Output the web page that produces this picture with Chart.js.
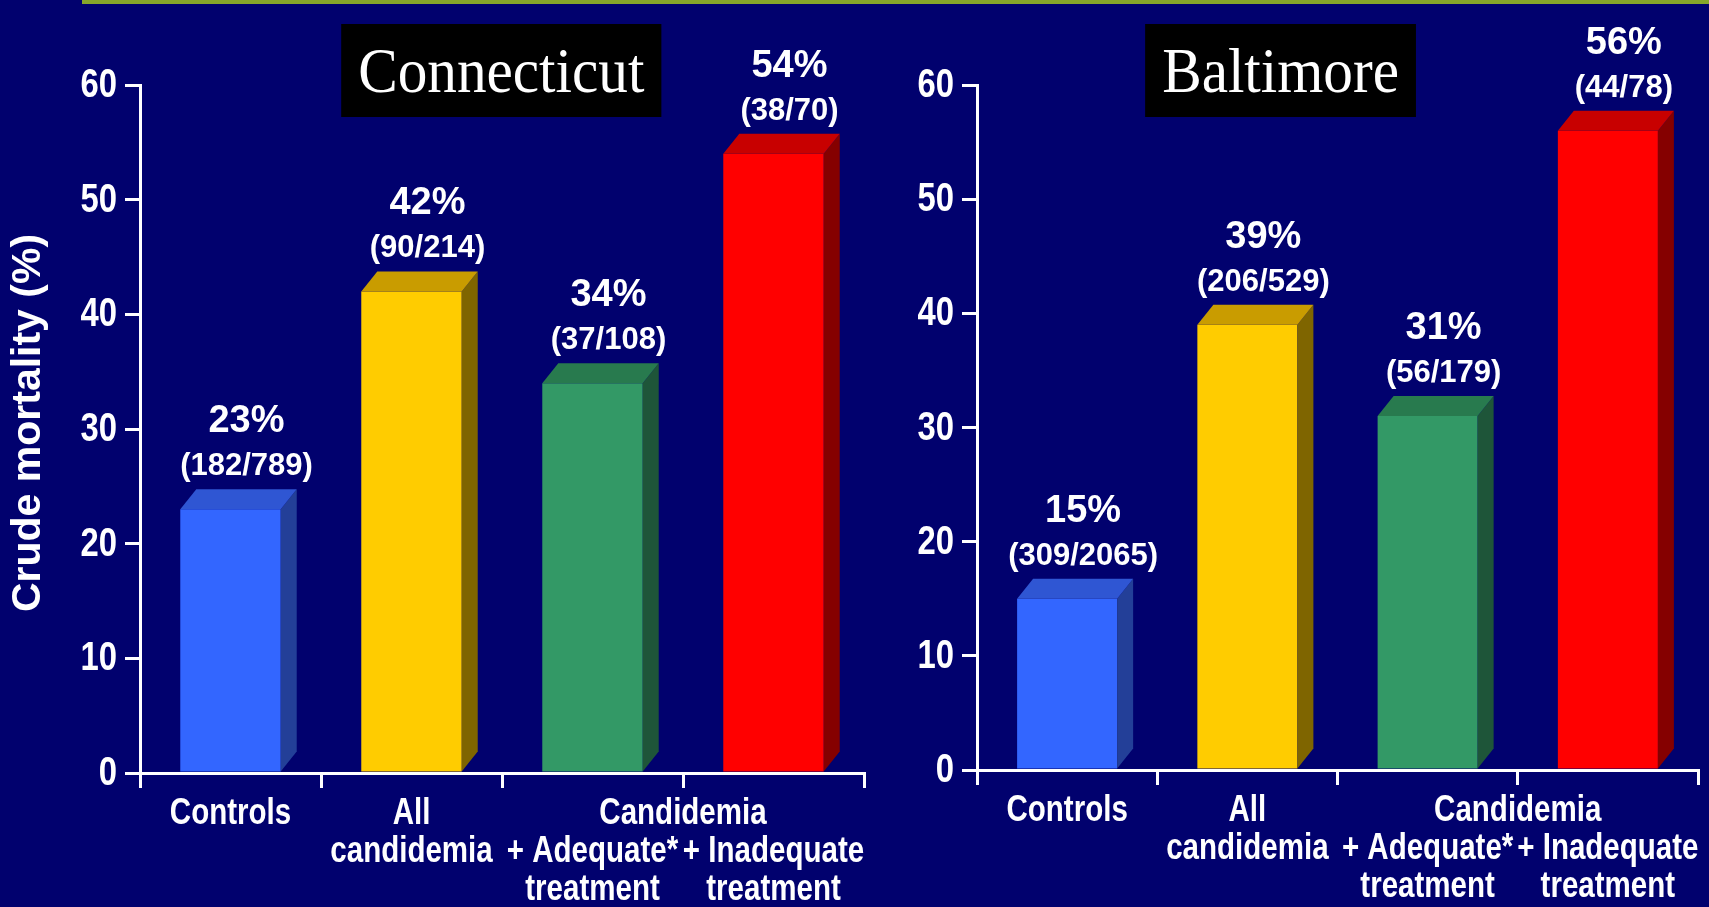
<!DOCTYPE html>
<html>
<head>
<meta charset="utf-8">
<title>Crude mortality: Connecticut and Baltimore</title>
<script src="https://cdn.jsdelivr.net/npm/chart.js@4.4.1/dist/chart.umd.min.js"></script>
<style>
  html, body { margin: 0; padding: 0; width: 1709px; height: 907px; overflow: hidden; background: #01016e; }
  #rule { position: absolute; left: 82px; top: 0; width: 1627px; height: 4px; background: #86a62a; }
  #ct { position: absolute; left: 0; top: 0; }
  #bal { position: absolute; left: 885px; top: 0; }
</style>
</head>
<body>
<div id="rule"></div>
<canvas id="ct" width="885" height="907"></canvas>
<canvas id="bal" width="824" height="907"></canvas>
<script>
// ---- data ----
const categories = [["Controls"], ["All", "candidemia"], ["", "+ Adequate*", "treatment"], ["", "+ Inadequate", "treatment"]];
const groupLabel = "Candidemia";          // shared heading over the two treatment columns
const yAxisTitle = "Crude mortality (%)";
const yTickValues = [0, 10, 20, 30, 40, 50, 60];

const connecticutRates = [23, 42, 34, 54];
const connecticutDeaths = [182, 90, 37, 38];
const connecticutPatients = [789, 214, 108, 70];

const baltimoreRates = [15, 39, 31, 56];
const baltimoreDeaths = [309, 206, 56, 44];
const baltimorePatients = [2065, 529, 179, 78];

// ---- styles ----
const SANS = "'Liberation Sans', Arial, Helvetica, sans-serif";
const SERIF = "'Liberation Serif', 'Times New Roman', serif";
const NARROW_X = 0.82;                    // horizontal squeeze for the condensed axis lettering
const FRONT = ['#3366ff', '#ffcc00', '#339966', '#ff0000'];
const TOP = ['#2f56d3', '#c99c00', '#287a4e', '#c80000'];
const SIDE = ['#233f98', '#7f6500', '#1e5539', '#850000'];
const DEPTH = { dx: 16, dy: -20 };
const TICK_LEN = 15;
const X_LABEL = { size: 36, lineHeight: 38, gap: 7 };
const Y_LABEL = { size: 40, gap: 8 };

// draw a line of text squeezed horizontally by sx
function squeezedText(ctx, text, x, y, size, sx, align, baseline) {
  ctx.save();
  ctx.translate(x, y);
  ctx.scale(sx, 1);
  ctx.font = `bold ${size}px ${SANS}`;
  ctx.fillStyle = '#ffffff';
  ctx.textAlign = align;
  ctx.textBaseline = baseline;
  ctx.fillText(text, 0, 0);
  ctx.restore();
}

// Right side and lid of each column, drawn from the bar element geometry
const prismFaces = {
  id: 'prismFaces',
  afterDatasetsDraw(chart) {
    const ctx = chart.ctx;
    chart.getDatasetMeta(0).data.forEach((bar, i) => {
      const { x, y, base, width } = bar.getProps(['x', 'y', 'base', 'width'], true);
      const l = x - width / 2, r = x + width / 2;
      ctx.save();
      ctx.fillStyle = SIDE[i];
      ctx.beginPath();
      ctx.moveTo(r, y);
      ctx.lineTo(r + DEPTH.dx, y + DEPTH.dy);
      ctx.lineTo(r + DEPTH.dx, base + DEPTH.dy);
      ctx.lineTo(r, base);
      ctx.closePath();
      ctx.fill();
      ctx.fillStyle = TOP[i];
      ctx.beginPath();
      ctx.moveTo(l, y);
      ctx.lineTo(l + DEPTH.dx, y + DEPTH.dy);
      ctx.lineTo(r + DEPTH.dx, y + DEPTH.dy);
      ctx.lineTo(r, y);
      ctx.closePath();
      ctx.fill();
      ctx.restore();
    });
  }
};

// Percentage and deaths/patients above every column
const valueLabels = {
  id: 'valueLabels',
  afterDatasetsDraw(chart, args, opts) {
    const ctx = chart.ctx;
    const rates = chart.data.datasets[0].data;
    chart.getDatasetMeta(0).data.forEach((bar, i) => {
      const cx = bar.x + DEPTH.dx;
      const yFrac = bar.y + DEPTH.dy - 14;
      ctx.save();
      ctx.fillStyle = '#ffffff';
      ctx.textAlign = 'center';
      ctx.textBaseline = 'alphabetic';
      ctx.font = `bold 31px ${SANS}`;
      ctx.fillText(`(${opts.deaths[i]}/${opts.patients[i]})`, cx, yFrac);
      ctx.font = `bold 38px ${SANS}`;
      ctx.fillText(`${rates[i]}%`, cx, yFrac - 43);
      ctx.restore();
    });
  }
};

// Axis lettering: tick values on y, category names and group heading on x
const axisLettering = {
  id: 'axisLettering',
  afterDraw(chart) {
    const ctx = chart.ctx;
    const ys = chart.scales.y;
    ys.ticks.forEach(t => {
      const py = ys.getPixelForValue(t.value);
      squeezedText(ctx, String(t.value), ys.right - TICK_LEN - Y_LABEL.gap, py + 1, Y_LABEL.size, NARROW_X, 'right', 'middle');
    });
    const xs = chart.scales.x;
    const firstLine = xs.top + TICK_LEN + X_LABEL.gap + X_LABEL.lineHeight / 2;
    chart.data.labels.forEach((lines, i) => {
      const px = xs.getPixelForValue(i);
      lines.forEach((line, j) => {
        if (line) squeezedText(ctx, line, px, firstLine + j * X_LABEL.lineHeight, X_LABEL.size, NARROW_X, 'center', 'middle');
      });
    });
    const gx = (xs.getPixelForValue(2) + xs.getPixelForValue(3)) / 2;
    squeezedText(ctx, groupLabel, gx, firstLine, X_LABEL.size, NARROW_X, 'center', 'middle');
  }
};

// Site name in a black box
const siteTitle = {
  id: 'siteTitle',
  afterDraw(chart, args, opts) {
    const { ctx, chartArea } = chart;
    const cx = chartArea.left + opts.center * (chartArea.right - chartArea.left);
    const sx = 0.94;
    ctx.save();
    ctx.font = `63px ${SERIF}`;
    const w = ctx.measureText(opts.text).width * sx;
    ctx.fillStyle = '#000000';
    ctx.fillRect(cx - w / 2 - 17, 24, w + 34, 93);
    ctx.translate(cx, 92);
    ctx.scale(sx, 1);
    ctx.fillStyle = '#ffffff';
    ctx.textAlign = 'center';
    ctx.textBaseline = 'alphabetic';
    ctx.fillText(opts.text, 0, 0);
    ctx.restore();
  }
};

// Rotated y-axis title
const axisTitle = {
  id: 'axisTitle',
  afterDraw(chart, args, opts) {
    if (!opts.text) return;
    const ctx = chart.ctx;
    ctx.save();
    ctx.translate(opts.x, opts.y);
    ctx.rotate(-Math.PI / 2);
    ctx.font = `bold 41px ${SANS}`;
    ctx.fillStyle = '#ffffff';
    ctx.textAlign = 'center';
    ctx.textBaseline = 'middle';
    ctx.fillText(opts.text, 0, 0);
    ctx.restore();
  }
};

function makeChart(id, rates, deaths, patients, layout) {
  return new Chart(document.getElementById(id), {
    type: 'bar',
    data: {
      labels: categories,
      datasets: [{
        data: rates,
        backgroundColor: FRONT,
        borderWidth: 0,
        barPercentage: 0.555,
        categoryPercentage: 1.0
      }]
    },
    options: {
      responsive: false,
      animation: false,
      devicePixelRatio: 1,
      layout: { padding: layout.padding },
      plugins: {
        legend: { display: false },
        tooltip: { enabled: false },
        valueLabels: { deaths, patients },
        siteTitle: { text: layout.title, center: layout.titleCenter },
        axisTitle: layout.axisTitle || {}
      },
      scales: {
        x: {
          z: 1,
          grid: { display: true, drawOnChartArea: false, drawTicks: true, tickLength: TICK_LEN, color: '#ffffff', lineWidth: 3, offset: true },
          border: { display: true, color: '#ffffff', width: 3 },
          ticks: { display: false, autoSkip: false, maxRotation: 0 },
          afterFit(scale) {
            scale.height = layout.xAxisHeight;
            scale.paddingLeft = 0;
            scale.paddingRight = 0;
          }
        },
        y: {
          min: 0,
          max: 60,
          afterBuildTicks(scale) { scale.ticks = yTickValues.map(v => ({ value: v })); },
          grid: { display: true, drawOnChartArea: false, drawTicks: true, tickLength: TICK_LEN, color: '#ffffff', lineWidth: 3 },
          border: { display: true, color: '#ffffff', width: 3 },
          ticks: { display: false },
          afterFit(scale) {
            scale.width = 80;
            scale.paddingTop = 0;
            scale.paddingBottom = 0;
          }
        }
      }
    },
    plugins: [prismFaces, valueLabels, axisLettering, siteTitle, axisTitle]
  });
}

makeChart('ct', connecticutRates, connecticutDeaths, connecticutPatients, {
  padding: { left: 60, top: 85, right: 21, bottom: 0 },
  xAxisHeight: 134,
  title: 'Connecticut',
  titleCenter: 0.499,
  axisTitle: { text: yAxisTitle, x: 29, y: 423 }
});

makeChart('bal', baltimoreRates, baltimoreDeaths, baltimorePatients, {
  padding: { left: 12, top: 85, right: 11, bottom: 0 },
  xAxisHeight: 137,
  title: 'Baltimore',
  titleCenter: 0.421
});
</script>
</body>
</html>
